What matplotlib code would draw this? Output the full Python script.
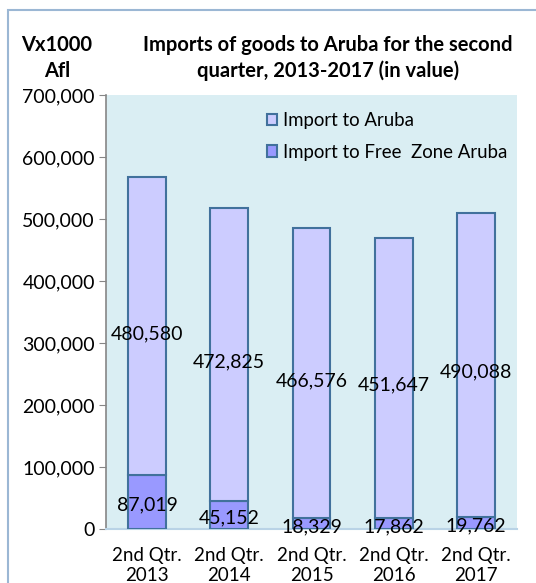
import matplotlib
matplotlib.use("Agg")
import matplotlib.pyplot as plt
from matplotlib.patches import Rectangle

categories = ["2nd Qtr.\n2013", "2nd Qtr.\n2014", "2nd Qtr.\n2015", "2nd Qtr.\n2016", "2nd Qtr.\n2017"]
free_zone = [87019, 45152, 18329, 17862, 19762]
aruba = [480580, 472825, 466576, 451647, 490088]
yticks = [0, 100000, 200000, 300000, 400000, 500000, 600000, 700000]

plt.rcParams['font.family'] = ['Lato', 'DejaVu Sans']

fig = plt.figure(figsize=(5.36, 5.83), dpi=100)
fig.patch.set_facecolor('white')
fig.patches.append(Rectangle((8/536, -0.05), 1.0, 1 - 10/583 + 0.05, transform=fig.transFigure,
                             fill=False, edgecolor='#9bb7d4', linewidth=1.5))

ax = fig.add_axes([106/536, 1 - 529/583, 411/536, 434/583])
ax.set_facecolor('#daeef3')

x = list(range(len(categories)))
w = 0.46
edge = '#41719c'
b1 = ax.bar(x, free_zone, width=w, color='#9999ff', edgecolor=edge, linewidth=1.5,
            label='Import to Free  Zone Aruba', zorder=3)
b2 = ax.bar(x, aruba, width=w, bottom=free_zone, color='#ccccff', edgecolor=edge, linewidth=1.5,
            label='Import to Aruba', zorder=3)

fs = 14
for i in x:
    ax.text(i, free_zone[i] / 2 - 5000, f"{free_zone[i]:,}", ha='center', va='center', fontsize=fs, zorder=4)
    ax.text(i, free_zone[i] + aruba[i] / 2 - 12000, f"{aruba[i]:,}", ha='center', va='center', fontsize=fs, zorder=4)

ax.set_xlim(-0.5, len(categories) - 0.5)
ax.set_ylim(0, 700000)
ax.set_yticks(yticks)
ax.set_yticklabels([f"{v:,}" for v in yticks], fontsize=fs)
ax.set_xticks(x)
ax.set_xticklabels(categories, fontsize=13.5, linespacing=1.18)
ax.tick_params(axis='x', length=0, pad=13)
ax.tick_params(axis='y', length=5, color='#868686', direction='out', pad=3)
for s in ['top', 'right']:
    ax.spines[s].set_visible(False)
ax.spines['left'].set_color('#868686')
ax.spines['left'].set_linewidth(1.2)
ax.spines['bottom'].set_color('#b9d3e6')
ax.spines['bottom'].set_linewidth(1.5)

handles = [b2, b1]
leg = ax.legend(handles=handles, labels=['Import to Aruba', 'Import to Free  Zone Aruba'],
                loc='upper left', bbox_to_anchor=(0.35, 1.0), frameon=False, fontsize=13.4,
                handlelength=0.55, handleheight=0.55, handletextpad=0.35, labelspacing=0.8)

tfs = 14.5
fig.text(328/536, 1 - 45/583, "Imports of goods to Aruba for the second", ha='center', va='center',
         fontsize=tfs, fontweight='bold')
fig.text(328/536, 1 - 71/583, "quarter, 2013-2017 (in value)", ha='center', va='center',
         fontsize=tfs, fontweight='bold')
fig.text(57/536, 1 - 45/583, "Vx1000", ha='center', va='center', fontsize=tfs, fontweight='bold')
fig.text(57/536, 1 - 71/583, "Afl", ha='center', va='center', fontsize=tfs, fontweight='bold')

fig.savefig("out.png", dpi=100)
